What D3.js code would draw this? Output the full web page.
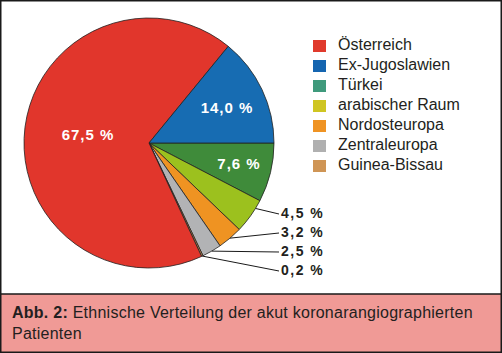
<!DOCTYPE html>
<html>
<head>
<meta charset="utf-8">
<script src="https://cdn.jsdelivr.net/npm/d3@7"></script>
<style>
  body { margin: 0; background: #fff; }
  svg { display: block; font-family: 'Liberation Sans', Arial, sans-serif; }
</style>
</head>
<body>
<div id="chart"></div>
<script>
// data
const categories = ['Österreich', 'Ex-Jugoslawien', 'Türkei', 'arabischer Raum', 'Nordosteuropa', 'Zentraleuropa', 'Guinea-Bissau'];
const values = [67.5, 14.0, 7.6, 4.5, 3.2, 2.5, 0.2];
const sliceColors = ['#e1362c', '#176cb2', '#3f8b3a', '#9cc11e', '#ef9322', '#b2b3b5', '#c98d4e'];
const legendColors = ['#e03a2c', '#1565b0', '#3f9a7c', '#cfc522', '#ef9323', '#b0b0b0', '#cf9555'];
const labels = ['67,5 %', '14,0 %', '7,6 %', '4,5 %', '3,2 %', '2,5 %', '0,2 %'];
// drawing order clockwise starting at 3 o'clock
const pieOrder = [2, 3, 4, 5, 6, 0, 1];

const width = 502, height = 353;
const cx = 149, cy = 143, r = 125;

const svg = d3.select('#chart').append('svg')
  .attr('width', width)
  .attr('height', height);

svg.append('rect')
  .attr('x', 0.75).attr('y', 0.75)
  .attr('width', width - 1.5).attr('height', height - 1.5)
  .attr('fill', '#fff')
  .attr('stroke', '#1a1a1a')
  .attr('stroke-width', 1.5);

const pieData = d3.pie()
  .sort(null)
  .value(i => values[i])
  .startAngle(Math.PI / 2)
  .endAngle(Math.PI / 2 + 2 * Math.PI)(pieOrder);

const arc = d3.arc().innerRadius(0).outerRadius(r);

const g = svg.append('g').attr('transform', `translate(${cx},${cy})`);

g.selectAll('path')
  .data(pieData)
  .enter()
  .append('path')
  .attr('d', arc)
  .attr('fill', d => sliceColors[d.data])
  .attr('stroke', '#222')
  .attr('stroke-width', 0.8);

// inside labels
const inner = { 0: [-61, -7], 1: [78, -34], 2: [90, 22] };
pieData.filter(d => d.data <= 2).forEach(d => {
  const c = inner[d.data];
  g.append('text')
    .attr('x', c[0]).attr('y', c[1])
    .attr('text-anchor', 'middle')
    .attr('dominant-baseline', 'middle')
    .style('font-weight', 'bold')
    .style('font-size', '15px')
    .style('letter-spacing', '1px')
    .style('fill', '#fff')
    .text(labels[d.data]);
});

// outside labels with leader lines
const labelY = [214, 233, 252, 271];
pieData.filter(d => d.data >= 3).forEach(d => {
  const k = d.data - 3;
  const inset = d.data === 3 ? 0.25 : 0.5;
  const a2 = d.startAngle + (d.endAngle - d.startAngle) * inset;
  const px = cx + Math.sin(a2) * r;
  const py = cy - Math.cos(a2) * r;
  svg.append('line')
    .attr('x1', px).attr('y1', py)
    .attr('x2', 279).attr('y2', labelY[k])
    .attr('stroke', '#1a1a1a')
    .attr('stroke-width', 1);
  svg.append('text')
    .attr('x', 281).attr('y', labelY[k])
    .attr('dominant-baseline', 'middle')
    .style('font-size', '14px')
    .style('font-weight', 'bold')
    .style('letter-spacing', '1.5px')
    .style('fill', '#231f20')
    .text(labels[d.data]);
});

// legend
const legend = svg.append('g').attr('transform', 'translate(313,40)');
categories.forEach((name, i) => {
  legend.append('rect')
    .attr('x', 0).attr('y', i * 20)
    .attr('width', 13).attr('height', 12)
    .attr('fill', legendColors[i]);
  legend.append('text')
    .attr('x', 25).attr('y', i * 20 + 6)
    .attr('dominant-baseline', 'middle')
    .style('font-size', '16px')
    .style('fill', '#231f20')
    .text(name);
});

// caption box
svg.append('rect')
  .attr('x', 0.75).attr('y', 294)
  .attr('width', width - 1.5).attr('height', height - 294.75)
  .attr('fill', '#f09a96')
  .attr('stroke', '#1a1a1a')
  .attr('stroke-width', 1.5);

const cap = svg.append('text')
  .attr('x', 12).attr('y', 318)
  .style('font-size', '16px')
  .style('letter-spacing', '0.25px')
  .style('fill', '#231f20');
cap.append('tspan').style('font-weight', 'bold').text('Abb. 2:');
cap.append('tspan').text(' Ethnische Verteilung der akut koronarangiographierten');
svg.append('text')
  .attr('x', 12).attr('y', 339)
  .style('font-size', '16px')
  .style('letter-spacing', '0.25px')
  .style('fill', '#231f20')
  .text('Patienten');
</script>
</body>
</html>
